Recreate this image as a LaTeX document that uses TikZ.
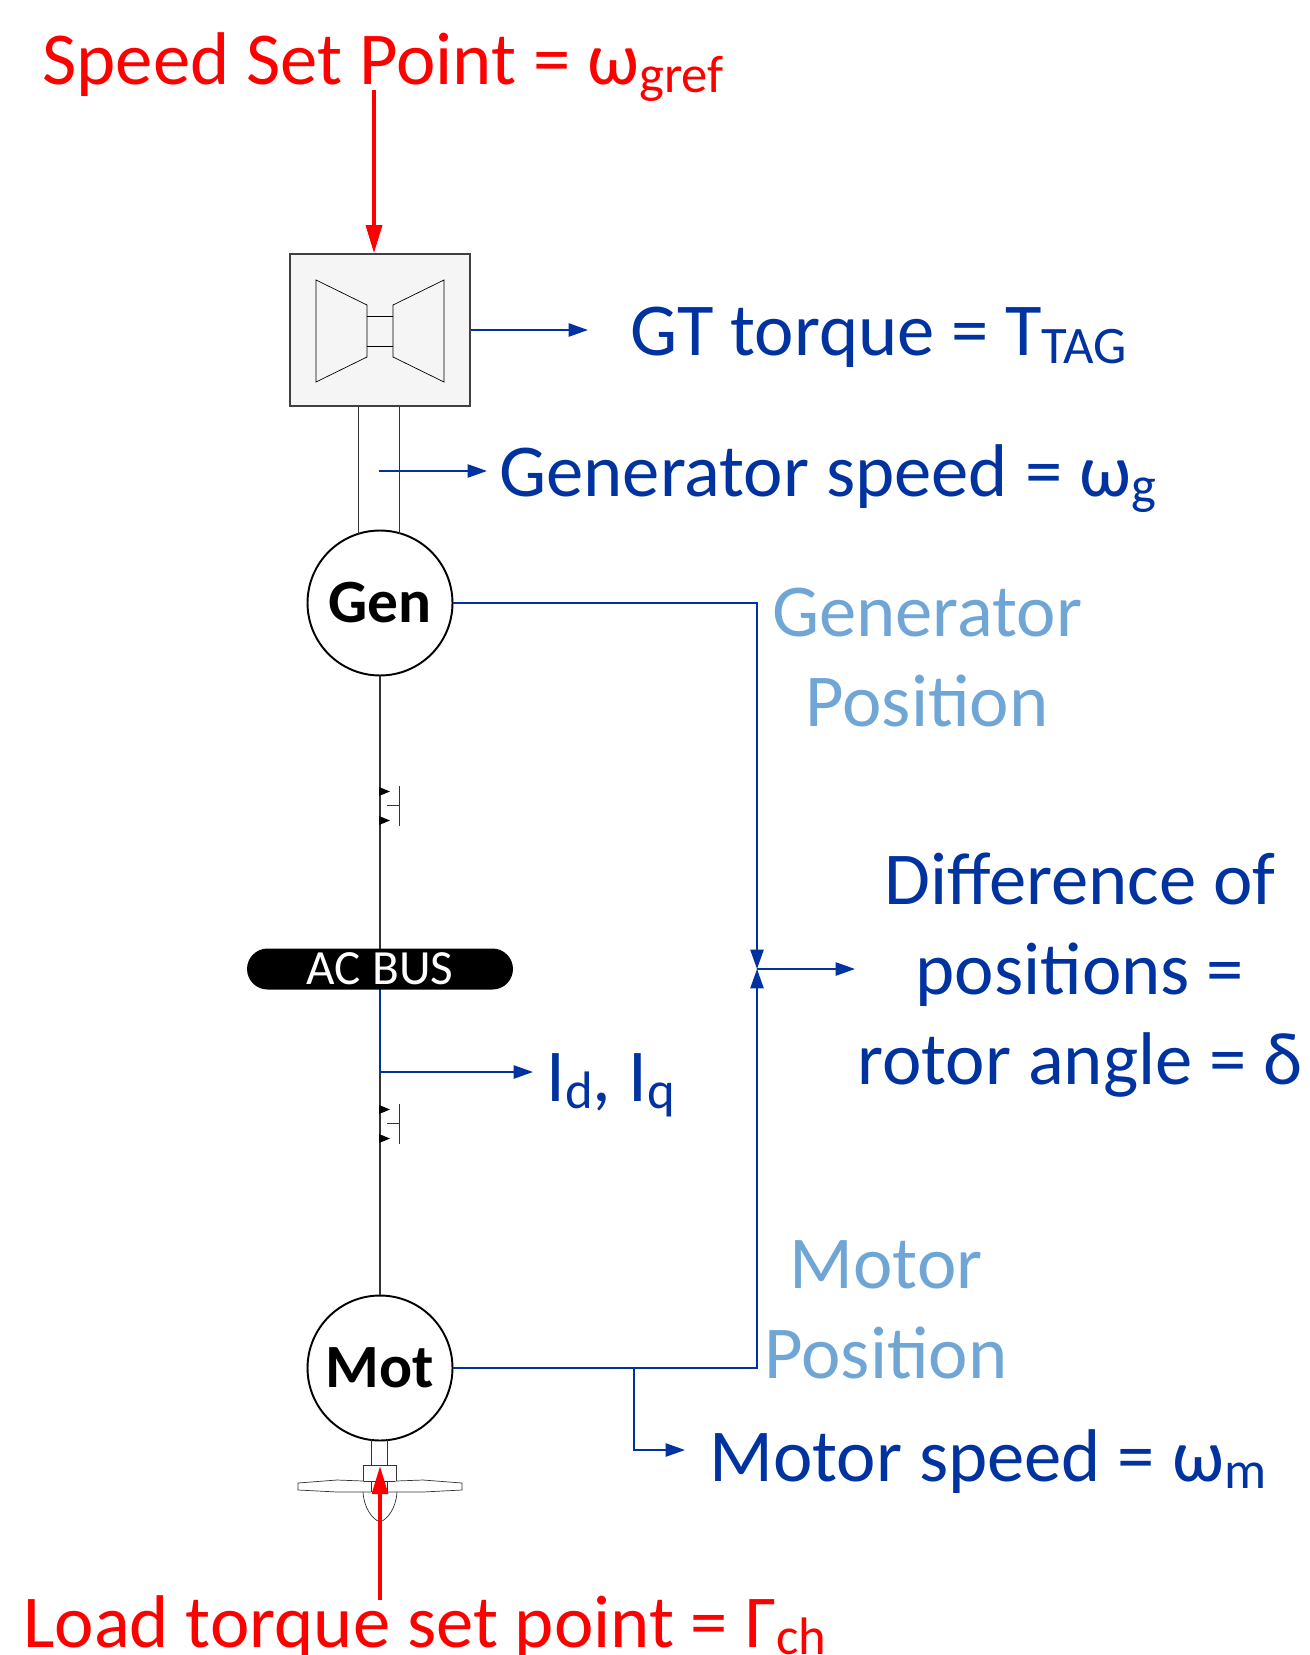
\documentclass[tikz,border=0pt]{standalone}
\usepackage{fontspec}
\setmainfont{Carlito}
\usetikzlibrary{arrows.meta,positioning}
\definecolor{sigblue}{HTML}{0032A0}
\definecolor{posblue}{HTML}{70A6D6}
\definecolor{boxgray}{HTML}{F5F5F5}
\newcommand{\lowsub}[1]{\raisebox{-0.1em}{\fontsize{30}{30}\selectfont #1}}
\tikzset{
  bigtxt/.style={font=\fontsize{42.5}{51}\selectfont, inner sep=0pt},
  sigarrow/.style={sigblue, line width=1.1pt, -{Triangle[length=11pt,width=7.5pt]}},
  setarrow/.style={red, line width=2.2pt, -{Triangle[length=16pt,width=9pt]}},
  machine/.style={circle, draw, line width=1.1pt, fill=white, minimum size=2.9cm,
    inner sep=0pt, font=\fontsize{35}{35}\selectfont\bfseries},
  tbox/.style={draw=black!75, fill=boxgray, line width=0.8pt, minimum width=3.6cm,
    minimum height=3.04cm},
  busbar/.style={fill=black, text=white, rounded corners=0.41cm, minimum width=5.32cm,
    minimum height=0.82cm, inner sep=0pt, font=\fontsize{28}{28}\selectfont}
}
\begin{document}
\begin{tikzpicture}[x=0.02cm, y=-0.02cm]
\useasboundingbox (0,0) rectangle (1309,1655);
% gas turbine
\node[tbox] (tb) at (380,330) {};
\draw[fill=boxgray] (316,280) -- (367,305) -- (367,357) -- (316,382) -- cycle;
\draw[fill=boxgray] (444,280) -- (393,305) -- (393,357) -- (444,382) -- cycle;
\draw (367,316) -- (393,316) (367,346) -- (393,346);
% machines and network
\node[machine] (gen) at (380,603) {Gen};
\node[machine] (mot) at (380,1368) {Mot};
\draw[black!80] (358,407) -- (358,534) (399,407) -- (399,534);
\draw[black!80, line width=0.8pt] (gen) -- (mot);
\foreach \y in {805,1123} {
  \fill (379,\y-18) -- (390,\y-13.5) -- (379,\y-9) -- cycle;
  \fill (379,\y+11) -- (390,\y+15.5) -- (379,\y+20) -- cycle;
  \draw[black!80] (387,\y) -- (399,\y) (399,\y-19) -- (399,\y+21);
}
\node[busbar] (bus) at (380,969) {AC BUS};
% propeller
\draw[black!80, fill=white] (371,1439) -- (371,1465) (387,1439) -- (387,1465);
\draw[black!80, fill=white] (363,1465) rectangle (396,1481);
\draw[black!80, fill=white] (363,1481) -- (337,1480) -- (298,1483) -- (298,1490) -- (337,1492) -- (371,1492);
\draw[black!80, fill=white] (396,1481) -- (423,1480) -- (462,1483) -- (462,1490) -- (423,1492) -- (387,1492);
\draw[black!80] (371,1481) -- (371,1492) (387,1481) -- (387,1492);
\draw[black!80] (363,1492) .. controls (364,1508) and (372,1519) .. (380,1522)
  .. controls (388,1519) and (396,1508) .. (397,1492);
% texts
\node[bigtxt, red, anchor=base west] (speedset) at (42,85) {Speed Set Point = ω\lowsub{gref}};
\node[bigtxt, sigblue, anchor=base west] (gtt) at (630,356) {GT torque = T\lowsub{TAG}};
\node[bigtxt, sigblue, anchor=base west] (genspeed) at (499,496) {Generator speed = ω\lowsub{g}};
\node[bigtxt, posblue, align=center, anchor=base] (genpos) at (927,726) {Generator\\Position};
\node[bigtxt, sigblue, align=center, anchor=base] (diff) at (1080,1084) {Difference of\\positions =\\rotor angle = δ};
\node[bigtxt, sigblue, anchor=base west] (idq) at (546,1101) {I\lowsub{d}, I\lowsub{q}};
\node[bigtxt, posblue, align=center, anchor=base] (motpos) at (886,1378) {Motor\\Position};
\node[bigtxt, sigblue, anchor=base west] (motspeed) at (709,1481) {Motor speed = ω\lowsub{m}};
\node[bigtxt, red, anchor=base west] (loadset) at (23,1647) {Load torque set point = Γ\lowsub{ch}};
% signals
\coordinate (sptop) at (374,90);
\coordinate (gttip) at (588,330);
\coordinate (gs) at (379,471);
\coordinate (gstip) at (487,471);
\coordinate (jn) at (757,969);
\coordinate (difftip) at (855,969);
\coordinate (idqtip) at (533,1072);
\coordinate (br) at (634,1368);
\coordinate (mstip) at (685,1450);
\coordinate (ldbot) at (380,1600);
\coordinate (hub) at (380,1466);
\draw[setarrow] (sptop) -- (sptop |- tb.north);
\draw[setarrow] (ldbot) -- (hub);
\draw[sigarrow] (tb.east) -- (gttip);
\draw[sigarrow] (gs) -- (gstip);
\draw[sigarrow] (gen.east) -| (jn);
\draw[sigarrow] (mot.east) -| (jn);
\draw[sigarrow] (jn) -- (difftip);
\draw[sigarrow] (bus.south) |- (idqtip);
\draw[sigarrow] (br) |- (mstip);
\end{tikzpicture}
\end{document}
